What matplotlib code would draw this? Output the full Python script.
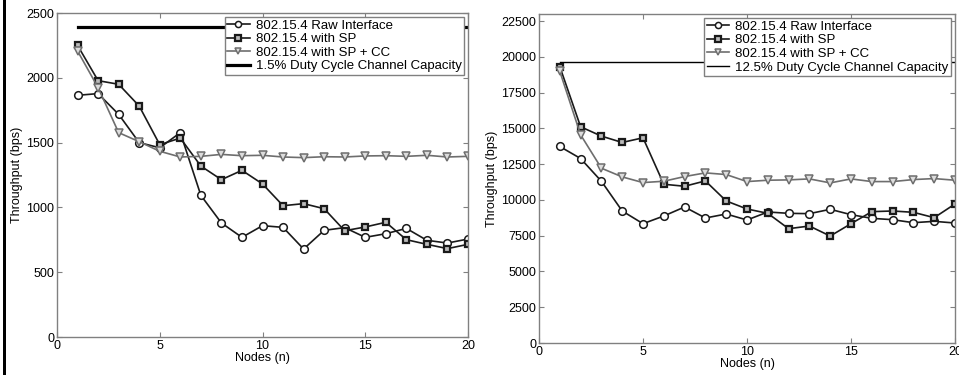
import matplotlib
matplotlib.use("Agg")
import matplotlib.pyplot as plt
from matplotlib.patches import Rectangle

plt.rcParams['font.family'] = ['Liberation Sans', 'DejaVu Sans']

nodes = list(range(1, 21))

# Left panel (1.5% duty cycle)
raw_left = [1865, 1878, 1718, 1500, 1460, 1577, 1093, 880, 769, 859,
            846, 679, 823, 844, 769, 797, 838, 746, 725, 756]
sp_left = [2250, 1978, 1950, 1782, 1484, 1535, 1319, 1214, 1286, 1181,
           1013, 1029, 990, 820, 849, 885, 751, 715, 682, 715]
spcc_left = [2207, 1924, 1577, 1507, 1433, 1389, 1394, 1409, 1399, 1402,
             1389, 1384, 1391, 1389, 1397, 1399, 1394, 1402, 1389, 1394]
cap_left = 2392

# Right panel (12.5% duty cycle)
raw_right = [13738, 12897, 11308, 9229, 8341, 8879, 9509, 8738, 9019, 8598,
             9159, 9065, 9042, 9346, 8972, 8715, 8621, 8411, 8505, 8388]
sp_right = [19322, 15117, 14463, 14019, 14346, 11098, 10958, 11332, 9930, 9369,
            9065, 7991, 8178, 7477, 8341, 9182, 9229, 9136, 8762, 9720]
spcc_right = [18995, 14556, 12220, 11612, 11215, 11308, 11636, 11893, 11776, 11285,
              11379, 11402, 11472, 11192, 11472, 11285, 11285, 11425, 11495, 11379]
cap_right = 19626

labels = ["802.15.4 Raw Interface", "802.15.4 with SP", "802.15.4 with SP + CC"]
cap_label_left = "1.5% Duty Cycle Channel Capacity"
cap_label_right = "12.5% Duty Cycle Channel Capacity"

x_ticks = [0, 5, 10, 15, 20]
y_ticks_left = [0, 500, 1000, 1500, 2000, 2500]
y_ticks_right = [0, 2500, 5000, 7500, 10000, 12500, 15000, 17500, 20000, 22500]

fig = plt.figure(figsize=(9.59, 3.75), dpi=100)
ax1 = fig.add_axes([57/959, 1-337/375, (468-57)/959, (337-13)/375])
ax2 = fig.add_axes([539/959, 1-343/375, (955-539)/959, (343-14)/375])

spine_c = '#808080'
dark = '#1a1a1a'
gray = '#6e6e6e'


def draw(ax, raw, sp, spcc, cap, cap_label, yticks, ymax, cap_lw):
    ax.plot(nodes, raw, color=dark, lw=1.2, marker='o', ms=5.5,
            mfc='white', mec=dark, mew=1.1, label=labels[0])
    ax.plot(nodes, sp, color=dark, lw=1.2, marker='s', ms=5,
            mfc='#bbbbbb', mec=dark, mew=1.6, label=labels[1])
    ax.plot(nodes, spcc, color=gray, lw=1.2, marker='v', ms=6,
            mfc='#dddddd', mec=gray, mew=1.1, label=labels[2])
    ax.plot([nodes[0], nodes[-1]], [cap, cap], color='black', lw=cap_lw,
            label=cap_label)
    ax.set_xlim(0, 20)
    ax.set_ylim(0, ymax)
    ax.set_xticks(x_ticks)
    ax.set_yticks(yticks)
    ax.set_xlabel("Nodes (n)", fontsize=9, labelpad=0)
    ax.set_ylabel("Throughput (bps)", fontsize=9, labelpad=2)
    ax.tick_params(direction='in', length=3.5, width=0.8, color=spine_c,
                   top=True, right=True, labelsize=9, pad=2)
    for s in ax.spines.values():
        s.set_color(spine_c)
        s.set_linewidth(1.0)
    leg = ax.legend(loc='upper right', fontsize=9.5, numpoints=1,
                    fancybox=False, framealpha=1, edgecolor=spine_c,
                    borderpad=0.2, labelspacing=0.1, handlelength=1.7,
                    handletextpad=0.45, borderaxespad=0.3, markerscale=0.8)
    leg.get_frame().set_linewidth(1.0)


draw(ax1, raw_left, sp_left, spcc_left, cap_left, cap_label_left,
     y_ticks_left, 2500, 2.3)
draw(ax2, raw_right, sp_right, spcc_right, cap_right, cap_label_right,
     y_ticks_right, 23000, 1.0)

fig.add_artist(Rectangle((3/959, 0), 3/959, 1, transform=fig.transFigure,
                         color='black', lw=0))

fig.savefig("out.png", dpi=100)
